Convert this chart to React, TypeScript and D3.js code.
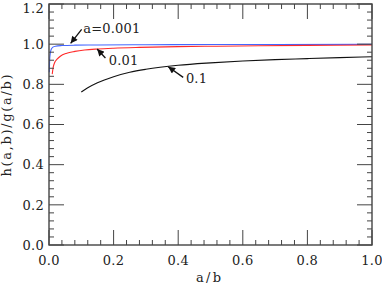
import React from "react";
import * as d3 from "d3";

const width = 382;
const height = 287;
const margin = { top: 4, right: 10, bottom: 42, left: 49 };

// a/b and h/g ratio for each value of a
const blueX = [0.001, 0.002, 0.004, 0.007, 0.012, 0.02, 0.04, 0.08, 0.15, 0.3, 0.5, 0.7, 1.0];
const blueY = [0.86, 0.92, 0.955, 0.975, 0.985, 0.99, 0.993, 0.995, 0.996, 0.997, 0.998, 0.998, 0.999];
const redX = [0.01, 0.013, 0.018, 0.025, 0.035, 0.055, 0.08, 0.11, 0.15, 0.2, 0.28, 0.4, 0.52, 0.65, 0.8, 1.0];
const redY = [0.851, 0.885, 0.91, 0.925, 0.94, 0.955, 0.964, 0.971, 0.976, 0.98, 0.984, 0.988, 0.99, 0.992, 0.994, 0.996];
const blackX = [0.1, 0.12, 0.15, 0.2, 0.25, 0.3, 0.4, 0.5, 0.6, 0.7, 0.8, 0.9, 1.0];
const blackY = [0.762, 0.783, 0.808, 0.838, 0.86, 0.875, 0.895, 0.907, 0.916, 0.923, 0.928, 0.933, 0.937];

const seriesColors = ["#4466ff", "#ff2a2a", "#111111"];
const annLabels = ["a=0.001", "0.01", "0.1"];
const annTipX = [0.067, 0.149, 0.369];
const annTipY = [1.004, 0.976, 0.888];

const xTicks = [0, 0.2, 0.4, 0.6, 0.8, 1.0];
const yTicks = [0, 0.2, 0.4, 0.6, 0.8, 1.0, 1.2];

const font = "'DejaVu Serif', serif";
const axisColor = "#444";

export default function App() {
  const x = d3.scaleLinear().domain([0, 1]).range([margin.left, width - margin.right]);
  const y = d3.scaleLinear().domain([0, 1.2]).range([height - margin.bottom, margin.top]);

  const line = d3
    .line<[number, number]>()
    .x((d) => x(d[0]))
    .y((d) => y(d[1]))
    .curve(d3.curveMonotoneX);

  const series = [
    d3.zip(blueX, blueY) as [number, number][],
    d3.zip(redX, redY) as [number, number][],
    d3.zip(blackX, blackY) as [number, number][],
  ];

  const xMinor = d3.range(0, 1.0001, 0.04);
  const yMinor = d3.range(0, 1.2001, 0.04);
  const isMajor = (v: number) => Math.abs(v / 0.2 - Math.round(v / 0.2)) < 1e-6;

  const [x0, x1] = x.range();
  const [y0, y1] = y.range();

  // offsets of arrow tail and label from the arrow tip, in pixels
  const tailOff = [[11, -14], [8.3, 9], [15, 10.7]];
  const textOff = [[12.6, -10.5], [11.6, 15.7], [17.7, 16.7]];

  return (
    <svg width={width} height={height} style={{ position: "absolute", left: 0, top: 0, background: "#fff" }}>
      <defs>
        <marker id="head" viewBox="0 0 10 10" refX="10" refY="5" markerWidth="8" markerHeight="7" markerUnits="userSpaceOnUse" orient="auto">
          <path d="M0,0 L10,5 L0,10 z" fill="#111" />
        </marker>
      </defs>

      {series.map((s, i) => (
        <path key={i} d={line(s) || ""} fill="none" stroke={seriesColors[i]} strokeWidth={1.1} />
      ))}

      <rect x={x0} y={y1} width={x1 - x0} height={y0 - y1} fill="none" stroke={axisColor} strokeWidth={1.4} />

      {xMinor.map((v, i) => {
        const len = isMajor(v) ? 15 : 5;
        return (
          <g key={"xt" + i} stroke={axisColor} strokeWidth={1}>
            <line x1={x(v)} x2={x(v)} y1={y0} y2={y0 - len} />
            <line x1={x(v)} x2={x(v)} y1={y1} y2={y1 + len} />
          </g>
        );
      })}
      {yMinor.map((v, i) => {
        const len = isMajor(v) ? 15 : 5;
        return (
          <g key={"yt" + i} stroke={axisColor} strokeWidth={1}>
            <line x1={x0} x2={x0 + len} y1={y(v)} y2={y(v)} />
            <line x1={x1} x2={x1 - len} y1={y(v)} y2={y(v)} />
          </g>
        );
      })}

      <g fontFamily={font} fontSize={13} fill="#222">
        {xTicks.map((v) => (
          <text key={"xl" + v} x={x(v)} y={y0 + 20} textAnchor="middle" letterSpacing={0.3}>
            {d3.format(".1f")(v)}
          </text>
        ))}
        {yTicks.map((v) => (
          <text key={"yl" + v} x={x0 - 5} y={Math.max(y(v), 8)} dy="0.36em" textAnchor="end" letterSpacing={0.3}>
            {d3.format(".1f")(v)}
          </text>
        ))}
        <text x={(x0 + x1) / 2 - 2} y={282} textAnchor="middle" textLength={25} lengthAdjust="spacing">
          a/b
        </text>
        <text
          transform={`translate(11,${(y0 + y1) / 2 + 1}) rotate(-90)`}
          textAnchor="middle"
          textLength={102}
          lengthAdjust="spacing"
        >
          h(a,b)/g(a/b)
        </text>

        {annLabels.map((lab, i) => {
          const tx = x(annTipX[i]);
          const ty = y(annTipY[i]);
          return (
            <g key={"an" + i}>
              <line
                x1={tx + tailOff[i][0]}
                y1={ty + tailOff[i][1]}
                x2={tx}
                y2={ty}
                stroke="#111"
                strokeWidth={1.3}
                markerEnd="url(#head)"
              />
              <text x={tx + textOff[i][0]} y={ty + textOff[i][1]} letterSpacing={0.2}>
                {lab}
              </text>
            </g>
          );
        })}
      </g>
    </svg>
  );
}
